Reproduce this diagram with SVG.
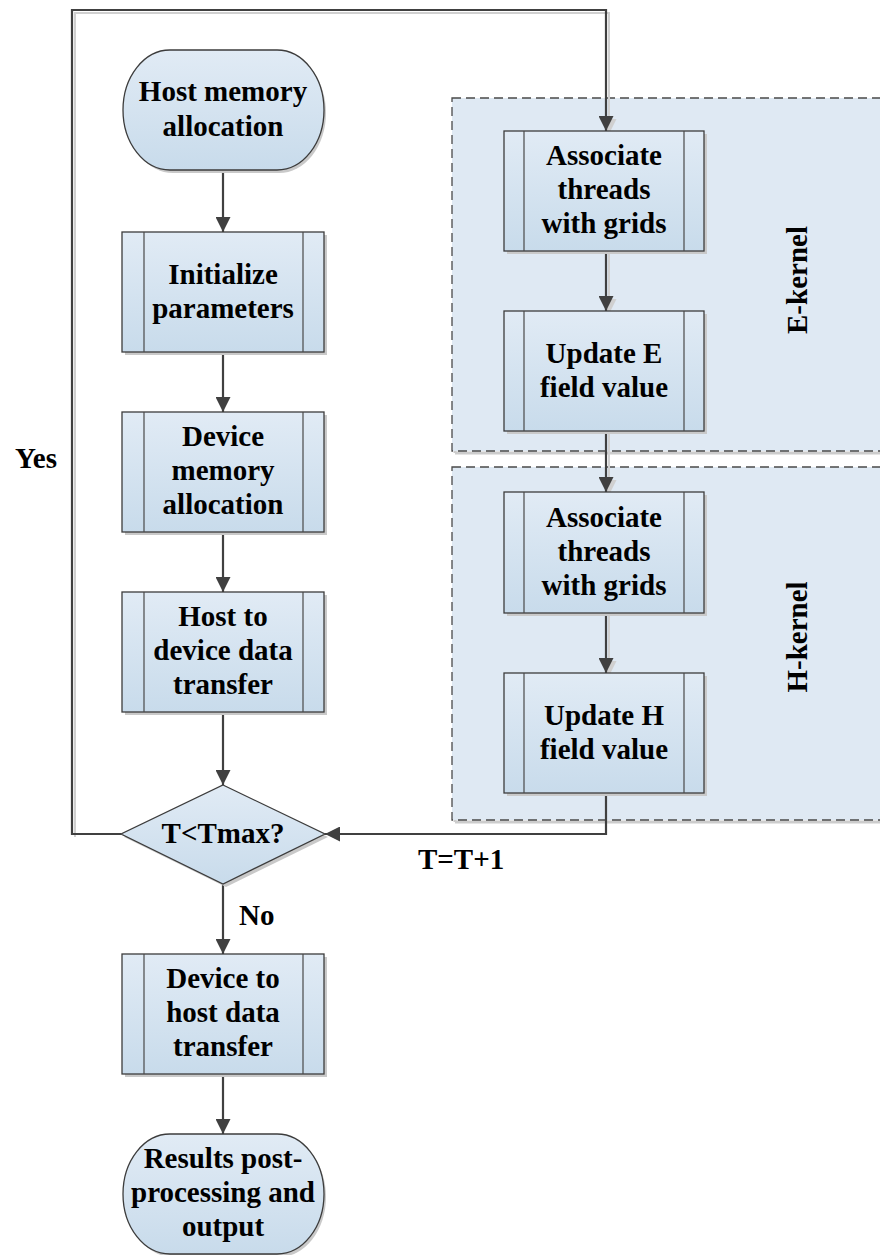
<svg xmlns="http://www.w3.org/2000/svg" width="880" height="1255" viewBox="0 0 880 1255">
  <style>
    .box { fill: url(#boxFill); stroke: #3c3c3c; stroke-width: 1.3; }
    .bar { stroke: #4a4a4a; stroke-width: 1.2; fill: none; }
    .shadow { fill: #c9c9c9; stroke: none; }
    .kernel { fill: #dfe9f3; stroke: #4a4a4a; stroke-width: 1.3; stroke-dasharray: 9 5; }
    .kernel-shadow { fill: none; stroke: #cccccc; stroke-width: 3; }
    .wire { fill: none; stroke: #404040; stroke-width: 2.2; }
    .wire-shadow { fill: none; stroke: #d0d0d0; stroke-width: 2; }
    text { font-family: "Liberation Serif", "Times New Roman", serif; font-weight: bold; font-size: 29px; fill: #000; }
    .c { text-anchor: middle; }
  </style>
  <defs>
    <linearGradient id="boxFill" x1="0" y1="0" x2="0" y2="1">
      <stop offset="0" stop-color="#e1ebf5"/>
      <stop offset="1" stop-color="#c8dbeb"/>
    </linearGradient>
    <marker id="arrow" viewBox="0 0 15 15" refX="15" refY="7.5" markerWidth="15" markerHeight="15" markerUnits="userSpaceOnUse" orient="auto">
      <path d="M0,0 L15,7.5 L0,15 Z" fill="#404040"/>
    </marker>
    <marker id="arrowShadow" viewBox="0 0 15 15" refX="15" refY="7.5" markerWidth="15" markerHeight="15" markerUnits="userSpaceOnUse" orient="auto">
      <path d="M0,0 L15,7.5 L0,15 Z" fill="#d0d0d0"/>
    </marker>
  </defs>

  <!-- kernel containers -->
  <g id="e-kernel">
    <path class="kernel-shadow" d="M455,453 H885 M455,101 V453"/>
    <rect class="kernel" x="452" y="98" width="440" height="353"/>
    <text transform="translate(807,280) rotate(-90)" class="c">E-kernel</text>
  </g>
  <g id="h-kernel">
    <path class="kernel-shadow" d="M455,822 H885 M455,470 V822"/>
    <rect class="kernel" x="452" y="467" width="440" height="353"/>
    <text transform="translate(807,637) rotate(-90)" class="c">H-kernel</text>
  </g>

  <!-- connectors -->
  <g id="connectors">
    <g transform="translate(3,3)">
      <path class="wire-shadow" d="M72,834 V10 H606 V131" marker-end="url(#arrowShadow)"/>
      <path class="wire-shadow" d="M606,251 V311" marker-end="url(#arrowShadow)"/>
      <path class="wire-shadow" d="M606,431 V492" marker-end="url(#arrowShadow)"/>
      <path class="wire-shadow" d="M606,613 V673" marker-end="url(#arrowShadow)"/>
    </g>
    <path class="wire" d="M121,834 H72 V10 H606 V131" marker-end="url(#arrow)"/>
    <path class="wire" d="M223,170 V232" marker-end="url(#arrow)"/>
    <path class="wire" d="M223,352 V412" marker-end="url(#arrow)"/>
    <path class="wire" d="M223,532 V592" marker-end="url(#arrow)"/>
    <path class="wire" d="M223,712 V785" marker-end="url(#arrow)"/>
    <path class="wire" d="M223,884 V954" marker-end="url(#arrow)"/>
    <path class="wire" d="M223,1074 V1134" marker-end="url(#arrow)"/>
    <path class="wire" d="M606,251 V311" marker-end="url(#arrow)"/>
    <path class="wire" d="M606,431 V492" marker-end="url(#arrow)"/>
    <path class="wire" d="M606,613 V673" marker-end="url(#arrow)"/>
    <path class="wire" d="M606,793 V834 H325" marker-end="url(#arrow)"/>
    <text x="36" y="468" class="c">Yes</text>
    <text x="239" y="925">No</text>
    <text x="418" y="869">T=T+1</text>
  </g>

  <!-- terminator: start -->
  <g id="host-memory-allocation">
    <path class="shadow" d="M173,53 H279 A47,60 0 0 1 279,173 H173 A47,60 0 0 1 173,53 Z"/>
    <path class="box" d="M170,50 H277 A47,60 0 0 1 277,170 H170 A47,60 0 0 1 170,50 Z"/>
    <text class="c" x="223" y="101">Host memory</text>
    <text class="c" x="223" y="136">allocation</text>
  </g>

  <!-- process boxes, left column -->
  <g id="initialize-parameters">
    <rect class="shadow" x="125" y="235" width="202" height="120"/>
    <rect class="box" x="122" y="232" width="202" height="120"/>
    <path class="bar" d="M144,232 V352 M303,232 V352"/>
    <text class="c" x="223" y="284">Initialize</text>
    <text class="c" x="223" y="318">parameters</text>
  </g>
  <g id="device-memory-allocation">
    <rect class="shadow" x="125" y="415" width="202" height="120"/>
    <rect class="box" x="122" y="412" width="202" height="120"/>
    <path class="bar" d="M144,412 V532 M303,412 V532"/>
    <text class="c" x="223" y="446">Device</text>
    <text class="c" x="223" y="480">memory</text>
    <text class="c" x="223" y="514">allocation</text>
  </g>
  <g id="host-to-device">
    <rect class="shadow" x="125" y="595" width="202" height="120"/>
    <rect class="box" x="122" y="592" width="202" height="120"/>
    <path class="bar" d="M144,592 V712 M303,592 V712"/>
    <text class="c" x="223" y="626">Host to</text>
    <text class="c" x="223" y="660">device data</text>
    <text class="c" x="223" y="694">transfer</text>
  </g>

  <!-- decision -->
  <g id="time-check">
    <path class="shadow" d="M226,788 L328,837 L226,887 L124,837 Z"/>
    <path class="box" d="M223,785 L325,834 L223,884 L121,834 Z"/>
    <text class="c" x="223" y="843">T&lt;Tmax?</text>
  </g>

  <g id="device-to-host">
    <rect class="shadow" x="125" y="957" width="202" height="120"/>
    <rect class="box" x="122" y="954" width="202" height="120"/>
    <path class="bar" d="M144,954 V1074 M303,954 V1074"/>
    <text class="c" x="223" y="988">Device to</text>
    <text class="c" x="223" y="1022">host data</text>
    <text class="c" x="223" y="1056">transfer</text>
  </g>

  <!-- terminator: end -->
  <g id="post-processing">
    <path class="shadow" d="M173,1137 H279 A47,60 0 0 1 279,1257 H173 A47,60 0 0 1 173,1137 Z"/>
    <path class="box" d="M170,1134 H277 A47,60 0 0 1 277,1254 H170 A47,60 0 0 1 170,1134 Z"/>
    <text class="c" x="223" y="1168">Results post-</text>
    <text class="c" x="223" y="1202">processing and</text>
    <text class="c" x="223" y="1236">output</text>
  </g>

  <!-- E-kernel steps -->
  <g id="e-associate">
    <rect class="shadow" x="507" y="134" width="200" height="120"/>
    <rect class="box" x="504" y="131" width="200" height="120"/>
    <path class="bar" d="M524,131 V251 M684,131 V251"/>
    <text class="c" x="604" y="165">Associate</text>
    <text class="c" x="604" y="199">threads</text>
    <text class="c" x="604" y="233">with grids</text>
  </g>
  <g id="e-update">
    <rect class="shadow" x="507" y="314" width="200" height="120"/>
    <rect class="box" x="504" y="311" width="200" height="120"/>
    <path class="bar" d="M524,311 V431 M684,311 V431"/>
    <text class="c" x="604" y="363">Update E</text>
    <text class="c" x="604" y="397">field value</text>
  </g>

  <!-- H-kernel steps -->
  <g id="h-associate">
    <rect class="shadow" x="507" y="495" width="200" height="121"/>
    <rect class="box" x="504" y="492" width="200" height="121"/>
    <path class="bar" d="M524,492 V613 M684,492 V613"/>
    <text class="c" x="604" y="527">Associate</text>
    <text class="c" x="604" y="561">threads</text>
    <text class="c" x="604" y="595">with grids</text>
  </g>
  <g id="h-update">
    <rect class="shadow" x="507" y="676" width="200" height="120"/>
    <rect class="box" x="504" y="673" width="200" height="120"/>
    <path class="bar" d="M524,673 V793 M684,673 V793"/>
    <text class="c" x="604" y="725">Update H</text>
    <text class="c" x="604" y="759">field value</text>
  </g>
</svg>
